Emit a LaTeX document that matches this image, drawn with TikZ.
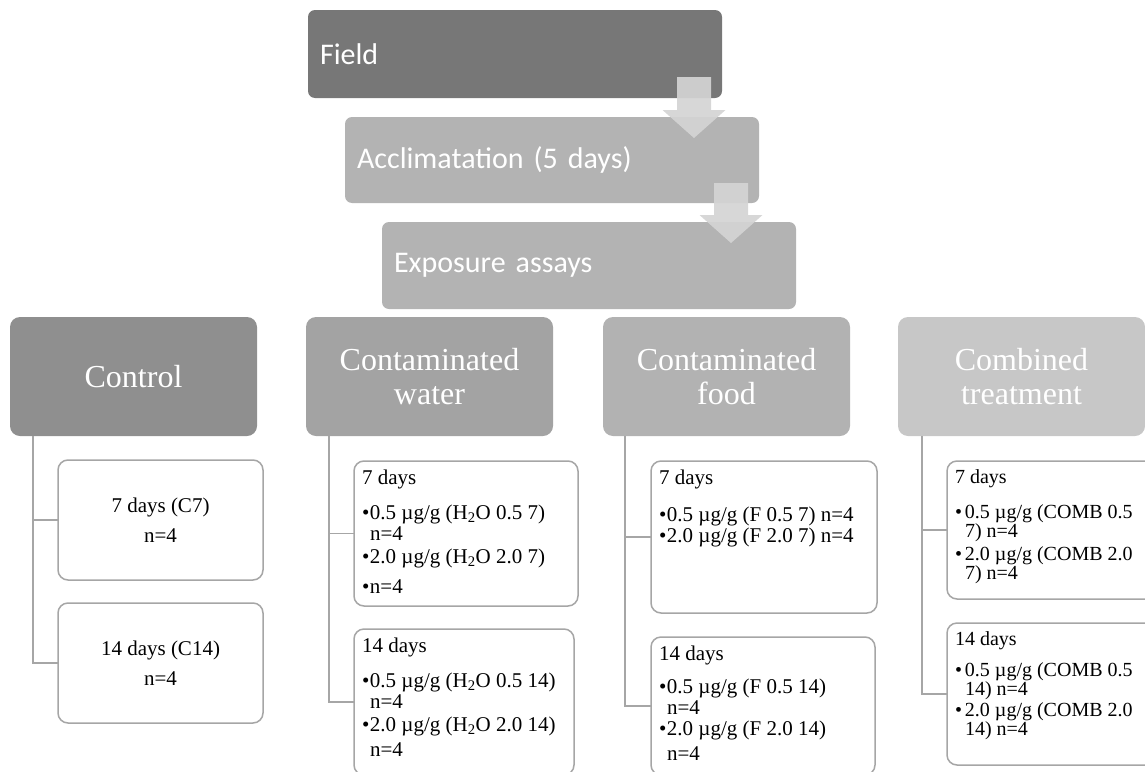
\documentclass[tikz,border=0pt]{standalone}
\usepackage{fontspec}
\setmainfont{Liberation Serif}
\newfontfamily\calfont{Carlito}
\usepackage{tikz}
\usetikzlibrary{shapes,arrows.meta,positioning}
\definecolor{fieldgray}{HTML}{777777}
\definecolor{stagegray}{HTML}{B3B3B3}
\definecolor{arrowgray}{HTML}{D4D4D4}
\definecolor{linegray}{HTML}{A6A6A6}
\newcommand{\itm}{\makebox[8pt][l]{\textbullet}}
\newcommand{\ind}{\hspace*{8pt}}
\newcommand{\citm}{\makebox[10pt][l]{\textbullet}}
\newcommand{\cind}{\hspace*{10pt}}

\begin{document}
\begin{tikzpicture}[x=1pt,y=-1pt]

\tikzset{every node/.style={inner sep=0pt, outer sep=0pt}}
\tikzstyle{stage} = [rectangle, rounded corners=7pt, fill=stagegray,
	text=white, font=\calfont\fontsize{30}{30}\selectfont,
	minimum width=414pt, minimum height=87pt, text width=390pt,
	align=left, anchor=north west];
\tikzstyle{group} = [rectangle, rounded corners=10pt, text=white,
	font=\fontsize{32}{34}\selectfont, minimum width=247pt,
	minimum height=119pt, align=center, anchor=north west];
\tikzstyle{sub} = [rectangle, rounded corners=10pt, draw=linegray,
	line width=1.5pt, fill=white, anchor=north west];
\tikzstyle{ctext} = [font=\fontsize{21}{30}\selectfont, align=center];
\tikzstyle{subtext} = [font=\fontsize{21}{21}\selectfont, align=left,
	anchor=north west];
\tikzstyle{smalltext} = [font=\fontsize{20}{19}\selectfont, align=left,
	anchor=north west];
\tikzstyle{flow} = [fill=arrowgray, fill opacity=.92];
\tikzstyle{branch} = [draw=linegray, line width=1.5pt];
% down arrow: centre x, top, tip
\def\flowarrow#1#2#3{
	\fill[flow] (#1-17,#2) -- (#1+17,#2) -- (#1+17,#3-28) -- (#1+31.5,#3-28)
		-- (#1,#3) -- (#1-31.5,#3-28) -- (#1-17,#3-28) -- cycle;}

\useasboundingbox (0,0) rectangle (1145,771);
\clip (0,0) rectangle (1145,771);

\node[stage,fill=fieldgray,minimum height=88pt] (field) at (308,10) {Field};
\node[stage,minimum height=86pt] (accl) at (345,117) {Acclimatation (5 days)};
\flowarrow{694}{77}{138}
\node[stage] (expo) at (382,222) {Exposure assays};
\flowarrow{731}{183}{243}

\node[group,fill=black!44] (ctrl) at (10,317) {Control};
\node[group,fill=black!36] (water) at (306,317) {Contaminated\\water};
\node[group,fill=black!30] (food) at (603,317) {Contaminated\\food};
\node[group,fill=black!22] (comb) at (898,317) {Combined\\treatment};

\node[sub,minimum width=205pt,minimum height=120pt] (c7) at (58,460) {};
\node[sub,minimum width=205pt,minimum height=120pt] (c14) at (58,603) {};
\node[sub,minimum width=224pt,minimum height=145pt] (w7) at (354,461) {};
\node[sub,minimum width=220pt,minimum height=146pt] (w14) at (354,629) {};
\node[sub,minimum width=226pt,minimum height=152pt] (f7) at (651,461) {};
\node[sub,minimum width=224pt,minimum height=138pt] (f14) at (651,637) {};
\node[sub,minimum width=226pt,minimum height=138pt] (b7) at (947,461) {};
\node[sub,minimum width=226pt,minimum height=142pt] (b14) at (947,623) {};

\node[ctext] (c7t) at (c7.center) {7 days (C7)\\n=4};
\node[ctext] (c14t) at (c14.center) {14 days (C14)\\n=4};

\node[subtext] (w7t) at ([shift={(8,9)}]w7.north west)
	{7 days\\[14pt]
	\itm 0.5 µg/g (H\textsubscript{2}O 0.5 7)\\
	\ind n=4\\[2pt]
	\itm 2.0 µg/g (H\textsubscript{2}O 2.0 7)\\[9pt]
	\itm n=4};
\node[subtext] (w14t) at ([shift={(8,9)}]w14.north west)
	{14 days\\[14pt]
	\itm 0.5 µg/g (H\textsubscript{2}O 0.5 14)\\
	\ind n=4\\[2pt]
	\itm 2.0 µg/g (H\textsubscript{2}O 2.0 14)\\[4pt]
	\ind n=4};
\node[subtext] (f7t) at ([shift={(8,9)}]f7.north west)
	{7 days\\[16pt]
	\itm 0.5 µg/g (F 0.5 7) n=4\\
	\itm 2.0 µg/g (F 2.0 7) n=4};
\node[subtext] (f14t) at ([shift={(8,9)}]f14.north west)
	{14 days\\[12pt]
	\itm 0.5 µg/g (F 0.5 14)\\
	\ind n=4\\
	\itm 2.0 µg/g (F 2.0 14)\\[4pt]
	\ind n=4};
\node[smalltext] (b7t) at ([shift={(8,9)}]b7.north west)
	{7 days\\[16pt]
	\citm 0.5 µg/g (COMB 0.5\\
	\cind 7) n=4\\[4pt]
	\citm 2.0 µg/g (COMB 2.0\\
	\cind 7) n=4};
\node[smalltext] (b14t) at ([shift={(8,9)}]b14.north west)
	{14 days\\[12pt]
	\citm 0.5 µg/g (COMB 0.5\\
	\cind 14) n=4\\[2pt]
	\citm 2.0 µg/g (COMB 2.0\\
	\cind 14) n=4};

\draw[branch] ([xshift=23pt]ctrl.south west) |- (c7.west);
\draw[branch] ([xshift=23pt]ctrl.south west) |- (c14.west);
\draw[branch] ([xshift=23pt]water.south west) |- (w7.west);
\draw[branch] ([xshift=23pt]water.south west) |- (w14.west);
\draw[branch] ([xshift=22pt]food.south west) |- (f7.west);
\draw[branch] ([xshift=22pt]food.south west) |- (f14.west);
\draw[branch] ([xshift=24pt]comb.south west) |- (b7.west);
\draw[branch] ([xshift=24pt]comb.south west) |- (b14.west);

\end{tikzpicture}
\end{document}
